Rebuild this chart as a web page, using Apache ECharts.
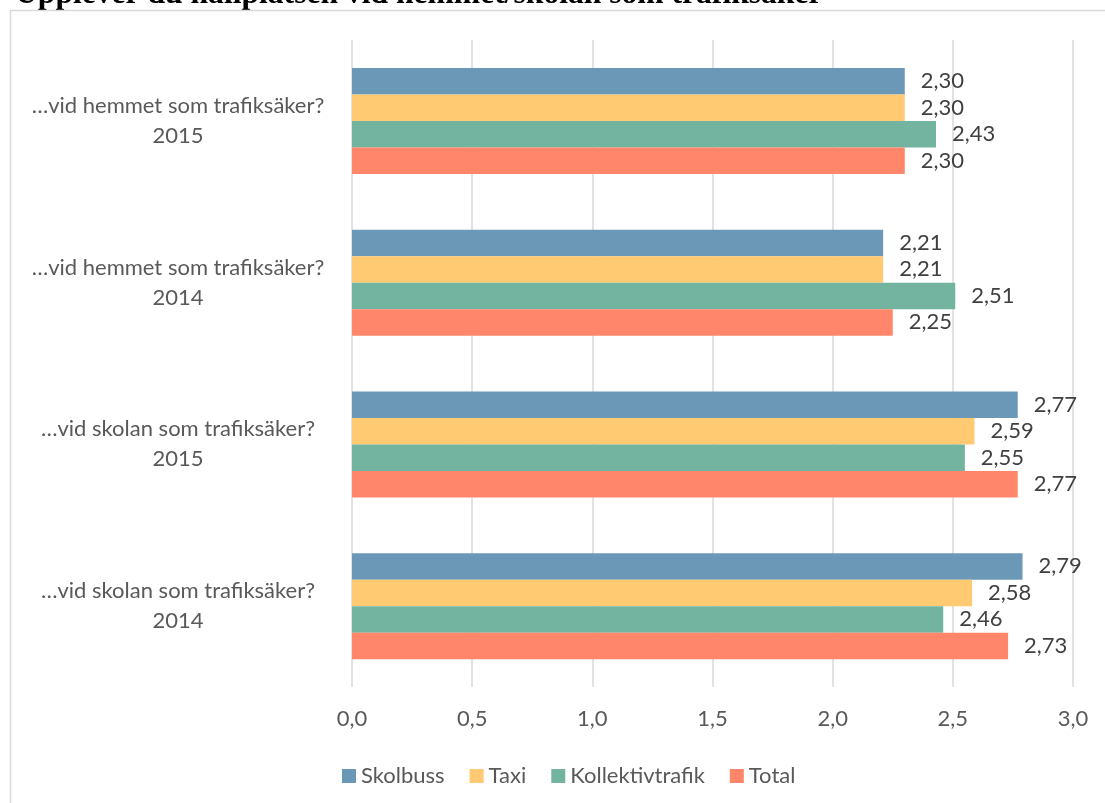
<!DOCTYPE html>
<html>
<head>
<meta charset="utf-8">
<script src="https://cdn.jsdelivr.net/npm/echarts@6/dist/echarts.min.js"></script>
<style>html,body{margin:0;padding:0;background:#fff;}#c{width:1105px;height:803px;}</style>
</head>
<body>
<div id="c"></div>
<script>
const titleText = 'Upplever du hållplatsen vid hemmet/skolan som trafiksäker';
const categories = [
  '…vid hemmet som trafiksäker?\n2015',
  '…vid hemmet som trafiksäker?\n2014',
  '…vid skolan som trafiksäker?\n2015',
  '…vid skolan som trafiksäker?\n2014'
];
const seriesNames = ['Skolbuss', 'Taxi', 'Kollektivtrafik', 'Total'];
const skolbuss = [2.30, 2.21, 2.77, 2.79];
const taxi = [2.30, 2.21, 2.59, 2.58];
const kollektivtrafik = [2.43, 2.51, 2.55, 2.46];
const total = [2.30, 2.25, 2.77, 2.73];
const xTicks = { min: 0, max: 3, interval: 0.5 };
const colors = ['#6c98b8', '#ffca72', '#72b4a0', '#ff866a'];

const FONT = 'Lato';
const chart = echarts.init(document.getElementById('c'), null, { renderer: 'canvas' });
const values = [skolbuss, taxi, kollektivtrafik, total];
const fmt = v => Number(v).toFixed(2).replace('.', ',');

chart.setOption({
  backgroundColor: '#ffffff',
  animation: false,
  graphic: [
    { type: 'text', z: -2, x: 15, y: -5,
      style: { text: titleText, font: 'bold 31.6px "Liberation Serif"', fill: '#000', verticalAlign: 'middle' } },
    { type: 'rect', z: -1, shape: { x: 10.5, y: 10.5, width: 1300, height: 1000 },
      style: { fill: '#ffffff', stroke: '#d9d9d9', lineWidth: 1.5 } }
  ],
  grid: { left: 352, right: 32, top: 40, bottom: 116, containLabel: false },
  legend: {
    data: seriesNames, left: 342, top: 765, itemWidth: 14, itemHeight: 14, itemGap: 25, padding: 0,
    icon: 'rect',
    textStyle: { fontFamily: FONT, fontSize: 22, color: '#595959' }
  },
  xAxis: {
    type: 'value', min: xTicks.min, max: xTicks.max, interval: xTicks.interval,
    axisLine: { show: false }, axisTick: { show: false },
    splitLine: { show: true, lineStyle: { color: '#d9d9d9', width: 1.5 } },
    axisLabel: { fontFamily: FONT, fontSize: 22, color: '#595959', margin: 21,
      formatter: v => Number(v).toFixed(1).replace('.', ',') }
  },
  yAxis: {
    type: 'category', data: categories, inverse: true,
    axisLine: { show: false }, axisTick: { show: false },
    axisLabel: { fontFamily: FONT, fontSize: 22, color: '#595959', align: 'center', margin: 174, lineHeight: 30,
      padding: [4, 0, 0, 0] }
  },
  series: seriesNames.map((name, i) => ({
    name, type: 'bar', data: values[i], barWidth: 26.5, barGap: '0%',
    itemStyle: { color: colors[i] },
    label: { show: true, position: 'right', distance: 16, fontFamily: FONT, fontSize: 22, color: '#404040',
      formatter: p => fmt(p.value) }
  }))
});
</script>
</body>
</html>
